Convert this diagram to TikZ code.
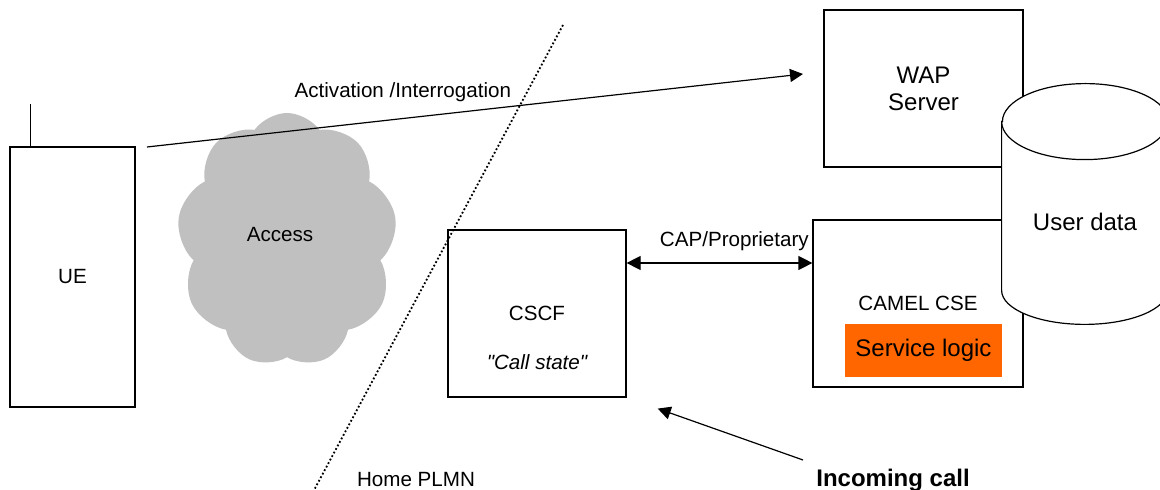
\documentclass[tikz,border=0pt]{standalone}
\usepackage{fontspec}
\setmainfont{Liberation Sans}[Ligatures=TeXOff]
\usetikzlibrary{positioning,arrows.meta,calc,shapes.geometric,shapes.symbols}
\definecolor{cloudgray}{HTML}{C0C0C0}
\definecolor{logicorange}{HTML}{FF6600}

\begin{document}
\begin{tikzpicture}[
  x=0.5pt,y=-0.5pt,
  font=\fontsize{10.3}{12}\selectfont,
  node distance=4mm,
  box/.style={draw,line width=0.6pt,fill=white,inner sep=0pt,align=center},
  big/.style={font=\fontsize{12}{13.5}\selectfont},
  bigbold/.style={font=\fontsize{12}{13.5}\selectfont\bfseries},
  ar/.style={-{Triangle[length=6.5pt,width=6.5pt]},line width=0.6pt},
  dar/.style={{Triangle[length=7pt,width=7pt]}-{Triangle[length=7pt,width=7pt]},line width=0.6pt},
  lbl/.style={inner sep=1pt},
  border/.style={line width=0.9pt,dash pattern=on 0.9pt off 1.1pt}
]
\useasboundingbox (0,0) rectangle (1160,490);
\clip (0,0) rectangle (1160,490);
\node[box,minimum width=62.5pt,minimum height=130pt] (ue) at (72.5,277) {UE};
\draw[line width=0.6pt] ([xshift=10.5pt]ue.north west) -- ++(0,21pt);
\node[cloud,cloud puffs=9,cloud puff arc=110,fill=cloudgray,minimum width=110pt,minimum height=127pt] (access) at (287,240) {};
\node (accesstext) at (280,235) {Access};
\node[box,minimum width=89pt,minimum height=83.5pt] (cscf) at (537,313.5) {CSCF};
\node[below=24.5pt of cscf.center,anchor=center,font=\fontsize{10.3}{12}\selectfont\itshape] (state) {"Call state"};
\node[box,big,minimum width=99.5pt,minimum height=78.5pt] (wap) at (923.5,88.5) {WAP\\Server};
\node[box,minimum width=105pt,minimum height=83.5pt] (cse) at (918,303.5) {CAMEL CSE};
\node[big,fill=logicorange,minimum width=78.5pt,minimum height=26.5pt,inner sep=0pt] (logic) at (923.5,350.5) {Service logic};
\node[minimum width=83pt,minimum height=84pt,inner sep=0pt] (udbody) at (1085,206) {};
\draw[line width=0.6pt,fill=white] (udbody.north west) -- (udbody.south west) arc[start angle=180,end angle=360,x radius=41.5pt,y radius=17pt] -- (udbody.north east) arc[start angle=0,end angle=180,x radius=41.5pt,y radius=19pt] -- cycle;
\draw[line width=0.6pt] (udbody.north west) arc[start angle=180,end angle=360,x radius=41.5pt,y radius=19pt];
\node[big] (userdata) at (1085,222) {User data};
\coordinate (plmntop) at (563,25);
\coordinate (plmnbot) at (313,492);
\draw[border] (plmntop) -- (plmnbot);
\node (plmn) at (416,480) {Home PLMN};
\coordinate (actsrc) at (147,147);
\coordinate (acttip) at (803,74);
\draw[ar] (actsrc) -- node[lbl,pos=0.39,above=7pt]{Activation /Interrogation} (acttip);
\coordinate (capy) at (0,263);
\draw[dar] (cscf.east |- capy) -- node[lbl,pos=0.58,above=4.6pt]{CAP/Proprietary} (cse.west |- capy);
\node[bigbold] (incoming) at (893,480) {Incoming call};
\coordinate (callsrc) at (803,460);
\draw[ar,shorten >=16.5pt] (callsrc) -- (cscf.south east);
\end{tikzpicture}
\end{document}
